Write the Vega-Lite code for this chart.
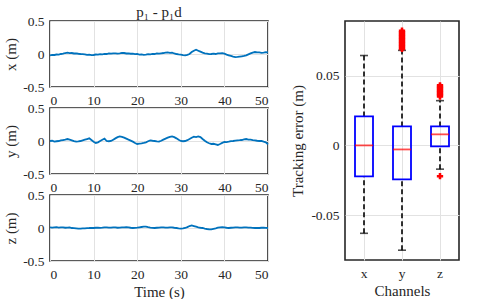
{
  "$schema": "https://vega.github.io/schema/vega-lite/v6.json",
  "padding": {"left": 2, "top": 4, "right": 0, "bottom": 0},
  "background": "white",
  "config": {
    "font": "Liberation Serif",
    "view": {"stroke": "#262626", "strokeWidth": 1.6},
    "axis": {
      "labelFont": "Liberation Serif",
      "titleFont": "Liberation Serif",
      "labelFontSize": 13.5,
      "titleFontSize": 15,
      "titleFontWeight": "normal",
      "labelColor": "#262626",
      "titleColor": "#262626",
      "gridColor": "#e2e2e2",
      "gridWidth": 1,
      "domain": false,
      "ticks": false,
      "labelPadding": 6
    }
  },
  "datasets": {
    "ts": [
      {"t":0,"x":-0.02,"y":0.0,"z":0.01},
      {"t":0.5,"x":-0.012,"y":0.004,"z":0.006},
      {"t":1,"x":-0.015,"y":-0.01,"z":0.01},
      {"t":1.5,"x":-0.008,"y":-0.004,"z":0.012},
      {"t":2,"x":-0.01,"y":0.0,"z":0.005},
      {"t":2.5,"x":0.0,"y":0.008,"z":0.01},
      {"t":3,"x":0.005,"y":0.015,"z":0.01},
      {"t":3.5,"x":0.015,"y":0.022,"z":0.004},
      {"t":4,"x":0.02,"y":0.03,"z":0.005},
      {"t":4.5,"x":0.012,"y":0.02,"z":0.008},
      {"t":5,"x":0.015,"y":0.01,"z":0.0},
      {"t":5.5,"x":0.008,"y":-0.002,"z":-0.002},
      {"t":6,"x":0.01,"y":-0.01,"z":-0.005},
      {"t":6.5,"x":0.004,"y":-0.006,"z":-0.01},
      {"t":7,"x":0.0,"y":0.0,"z":-0.01},
      {"t":7.5,"x":-0.002,"y":0.01,"z":-0.006},
      {"t":8,"x":-0.005,"y":0.02,"z":-0.005},
      {"t":8.5,"x":-0.012,"y":0.03,"z":-0.002},
      {"t":9,"x":-0.01,"y":0.04,"z":0.0},
      {"t":9.5,"x":-0.016,"y":0.015,"z":0.003},
      {"t":10,"x":-0.015,"y":-0.01,"z":0.0},
      {"t":10.5,"x":-0.008,"y":-0.03,"z":0.004},
      {"t":11,"x":-0.01,"y":-0.02,"z":0.005},
      {"t":11.5,"x":-0.003,"y":0.0,"z":0.002},
      {"t":12,"x":-0.005,"y":0.02,"z":0.005},
      {"t":12.5,"x":0.002,"y":0.035,"z":0.01},
      {"t":13,"x":0.0,"y":0.0,"z":0.01},
      {"t":13.5,"x":0.008,"y":-0.004,"z":0.006},
      {"t":14,"x":0.005,"y":0.0,"z":0.005},
      {"t":14.5,"x":0.01,"y":0.02,"z":0.01},
      {"t":15,"x":0.01,"y":0.04,"z":0.01},
      {"t":15.5,"x":0.006,"y":0.058,"z":0.004},
      {"t":16,"x":0.01,"y":0.07,"z":0.005},
      {"t":16.5,"x":0.016,"y":0.062,"z":0.01},
      {"t":17,"x":0.015,"y":0.05,"z":0.01},
      {"t":17.5,"x":0.008,"y":0.035,"z":0.014},
      {"t":18,"x":0.01,"y":0.02,"z":0.01},
      {"t":18.5,"x":0.004,"y":0.006,"z":0.004},
      {"t":19,"x":0.005,"y":-0.01,"z":0.0},
      {"t":19.5,"x":-0.002,"y":-0.03,"z":0.002},
      {"t":20,"x":0.0,"y":-0.045,"z":0.005},
      {"t":20.5,"x":-0.008,"y":-0.04,"z":0.01},
      {"t":21,"x":-0.005,"y":-0.035,"z":0.015},
      {"t":21.5,"x":-0.012,"y":-0.028,"z":0.02},
      {"t":22,"x":-0.01,"y":-0.02,"z":0.02},
      {"t":22.5,"x":-0.003,"y":-0.004,"z":0.012},
      {"t":23,"x":-0.005,"y":0.01,"z":0.005},
      {"t":23.5,"x":0.002,"y":0.004,"z":0.002},
      {"t":24,"x":0.0,"y":0.0,"z":0.0},
      {"t":24.5,"x":0.008,"y":-0.006,"z":0.004},
      {"t":25,"x":0.005,"y":-0.01,"z":0.005},
      {"t":25.5,"x":0.01,"y":0.004,"z":0.01},
      {"t":26,"x":0.015,"y":0.02,"z":0.01},
      {"t":26.5,"x":0.022,"y":0.036,"z":0.006},
      {"t":27,"x":0.025,"y":0.05,"z":0.005},
      {"t":27.5,"x":0.018,"y":0.062,"z":0.01},
      {"t":28,"x":0.02,"y":0.07,"z":0.01},
      {"t":28.5,"x":0.008,"y":0.058,"z":0.004},
      {"t":29,"x":0.0,"y":0.04,"z":0.0},
      {"t":29.5,"x":-0.006,"y":0.018,"z":-0.006},
      {"t":30,"x":-0.01,"y":0.0,"z":-0.01},
      {"t":30.5,"x":-0.018,"y":-0.004,"z":-0.006},
      {"t":31,"x":-0.02,"y":0.0,"z":0.0},
      {"t":31.5,"x":-0.012,"y":0.012,"z":0.014},
      {"t":32,"x":0.0,"y":0.03,"z":0.03},
      {"t":32.5,"x":0.03,"y":0.05,"z":0.04},
      {"t":33,"x":0.05,"y":0.065,"z":0.03},
      {"t":33.5,"x":0.065,"y":0.06,"z":0.02},
      {"t":34,"x":0.05,"y":0.07,"z":0.01},
      {"t":34.5,"x":0.035,"y":0.06,"z":0.004},
      {"t":35,"x":0.02,"y":0.03,"z":0.0},
      {"t":35.5,"x":0.01,"y":0.004,"z":-0.008},
      {"t":36,"x":0.005,"y":-0.02,"z":-0.015},
      {"t":36.5,"x":-0.002,"y":-0.034,"z":-0.02},
      {"t":37,"x":0.0,"y":-0.045,"z":-0.02},
      {"t":37.5,"x":0.006,"y":-0.042,"z":-0.012},
      {"t":38,"x":0.0,"y":-0.05,"z":-0.005},
      {"t":38.5,"x":0.008,"y":-0.06,"z":0.004},
      {"t":39,"x":0.01,"y":-0.045,"z":0.01},
      {"t":39.5,"x":0.014,"y":-0.028,"z":0.012},
      {"t":40,"x":0.005,"y":-0.015,"z":0.01},
      {"t":40.5,"x":-0.01,"y":-0.016,"z":0.004},
      {"t":41,"x":-0.02,"y":-0.01,"z":0.0},
      {"t":41.5,"x":-0.03,"y":-0.002,"z":0.004},
      {"t":42,"x":-0.04,"y":0.0,"z":0.005},
      {"t":42.5,"x":-0.046,"y":0.006,"z":0.01},
      {"t":43,"x":-0.045,"y":0.01,"z":0.01},
      {"t":43.5,"x":-0.04,"y":0.012,"z":0.006},
      {"t":44,"x":-0.035,"y":0.015,"z":0.005},
      {"t":44.5,"x":-0.03,"y":0.024,"z":0.01},
      {"t":45,"x":-0.02,"y":0.03,"z":0.01},
      {"t":45.5,"x":-0.005,"y":0.022,"z":0.006},
      {"t":46,"x":0.01,"y":0.02,"z":0.005},
      {"t":46.5,"x":0.022,"y":0.012,"z":0.002},
      {"t":47,"x":0.03,"y":0.01,"z":0.0},
      {"t":47.5,"x":0.024,"y":0.004,"z":0.003},
      {"t":48,"x":0.025,"y":0.0,"z":0.0},
      {"t":48.5,"x":0.018,"y":0.002,"z":0.004},
      {"t":49,"x":0.02,"y":-0.01,"z":0.005},
      {"t":49.5,"x":0.028,"y":-0.02,"z":0.002},
      {"t":50,"x":0.025,"y":-0.05,"z":0.0}
    ],
    "stats": [
      {"ch":"x","lo":-0.0629,"q1":-0.0221,"med":0.0,"q3":0.0207,"hi":0.0643},
      {"ch":"y","lo":-0.075,"q1":-0.0243,"med":-0.0029,"q3":0.0136,"hi":0.068},
      {"ch":"z","lo":-0.017,"q1":-0.0007,"med":0.0079,"q3":0.0136,"hi":0.032}
    ],
    "outliers": [
      {"ch":"y","v":0.069},{"ch":"y","v":0.070},{"ch":"y","v":0.071},{"ch":"y","v":0.072},
      {"ch":"y","v":0.073},{"ch":"y","v":0.074},{"ch":"y","v":0.075},{"ch":"y","v":0.076},
      {"ch":"y","v":0.077},{"ch":"y","v":0.078},{"ch":"y","v":0.079},{"ch":"y","v":0.080},
      {"ch":"y","v":0.081},{"ch":"y","v":0.082},
      {"ch":"z","v":0.035},{"ch":"z","v":0.036},{"ch":"z","v":0.037},{"ch":"z","v":0.038},
      {"ch":"z","v":0.039},{"ch":"z","v":0.040},{"ch":"z","v":0.041},{"ch":"z","v":0.042},
      {"ch":"z","v":0.043},
      {"ch":"z","v":-0.022}
    ]
  },
  "spacing": 17,
  "hconcat": [
    {
      "spacing": 21,
      "bounds": "flush",
      "vconcat": [
        {
          "width": 218, "height": 66,
          "title": {"text": "p₁ - p₁d", "fontSize": 15, "fontWeight": "normal", "font": "Liberation Serif", "color": "#262626", "anchor": "middle", "offset": -6},
          "data": {"name": "ts"},
          "mark": {"type": "line", "color": "#0072BD", "strokeWidth": 1.8},
          "encoding": {
            "x": {"field": "t", "type": "quantitative", "scale": {"domain": [0, 50], "nice": false}, "axis": {"values": [0,10,20,30,40,50], "title": null}},
            "y": {"field": "x", "type": "quantitative", "scale": {"domain": [-0.5, 0.5], "nice": false}, "axis": {"values": [-0.5,0,0.5], "title": "x (m)", "titlePadding": 4, "labelExpr": "datum.value == 0 ? '0' : (datum.value > 0 ? toString(datum.value) : '-' + toString(-datum.value))"}}
          }
        },
        {
          "width": 218, "height": 66,
          "data": {"name": "ts"},
          "mark": {"type": "line", "color": "#0072BD", "strokeWidth": 1.8},
          "encoding": {
            "x": {"field": "t", "type": "quantitative", "scale": {"domain": [0, 50], "nice": false}, "axis": {"values": [0,10,20,30,40,50], "title": null}},
            "y": {"field": "y", "type": "quantitative", "scale": {"domain": [-0.5, 0.5], "nice": false}, "axis": {"values": [-0.5,0,0.5], "title": "y (m)", "titlePadding": 4, "labelExpr": "datum.value == 0 ? '0' : (datum.value > 0 ? toString(datum.value) : '-' + toString(-datum.value))"}}
          }
        },
        {
          "width": 218, "height": 66,
          "data": {"name": "ts"},
          "mark": {"type": "line", "color": "#0072BD", "strokeWidth": 1.8},
          "encoding": {
            "x": {"field": "t", "type": "quantitative", "scale": {"domain": [0, 50], "nice": false}, "axis": {"values": [0,10,20,30,40,50], "title": "Time (s)", "titlePadding": 4}},
            "y": {"field": "z", "type": "quantitative", "scale": {"domain": [-0.5, 0.5], "nice": false}, "axis": {"values": [-0.5,0,0.5], "title": "z (m)", "titlePadding": 4, "labelExpr": "datum.value == 0 ? '0' : (datum.value > 0 ? toString(datum.value) : '-' + toString(-datum.value))"}}
          }
        }
      ]
    },
    {
      "width": 114, "height": 239,
      "encoding": {
        "x": {"field": "ch", "type": "nominal", "scale": {"domain": ["x","y","z"], "paddingInner": 0, "paddingOuter": 0}, "axis": {"title": "Channels", "labelAngle": 0, "grid": true, "bandPosition": 0.5, "titlePadding": 4}}
      },
      "layer": [
        {
          "data": {"name": "stats"},
          "mark": {"type": "rule", "color": "black", "strokeWidth": 1.6, "strokeDash": [5, 3]},
          "encoding": {
            "y": {"field": "q3", "type": "quantitative", "scale": {"domain": [-0.082, 0.089], "nice": false, "zero": false}, "axis": {"values": [-0.05, 0, 0.05], "title": "Tracking error (m)", "titlePadding": 5, "labelExpr": "datum.value == 0 ? '0' : (datum.value > 0 ? toString(datum.value) : '-' + toString(-datum.value))"}},
            "y2": {"field": "hi"}
          }
        },
        {
          "data": {"name": "stats"},
          "mark": {"type": "rule", "color": "black", "strokeWidth": 1.6, "strokeDash": [5, 3]},
          "encoding": {
            "y": {"field": "lo", "type": "quantitative", "scale": {"domain": [-0.082, 0.089], "nice": false, "zero": false}},
            "y2": {"field": "q1"}
          }
        },
        {
          "data": {"name": "stats"},
          "mark": {"type": "tick", "color": "black", "orient": "horizontal", "size": 8, "thickness": 1.6},
          "encoding": {
            "y": {"field": "hi", "type": "quantitative", "scale": {"domain": [-0.082, 0.089], "nice": false, "zero": false}}
          }
        },
        {
          "data": {"name": "stats"},
          "mark": {"type": "tick", "color": "black", "orient": "horizontal", "size": 8, "thickness": 1.6},
          "encoding": {
            "y": {"field": "lo", "type": "quantitative", "scale": {"domain": [-0.082, 0.089], "nice": false, "zero": false}}
          }
        },
        {
          "data": {"name": "stats"},
          "mark": {"type": "bar", "size": 18, "fill": "white", "fillOpacity": 0, "stroke": "#0000FF", "strokeWidth": 1.8},
          "encoding": {
            "y": {"field": "q1", "type": "quantitative", "scale": {"domain": [-0.082, 0.089], "nice": false, "zero": false}},
            "y2": {"field": "q3"}
          }
        },
        {
          "data": {"name": "stats"},
          "mark": {"type": "tick", "color": "#FF0000", "orient": "horizontal", "size": 18, "thickness": 1.8},
          "encoding": {
            "y": {"field": "med", "type": "quantitative", "scale": {"domain": [-0.082, 0.089], "nice": false, "zero": false}}
          }
        },
        {
          "data": {"name": "outliers"},
          "mark": {"type": "point", "shape": "cross", "filled": true, "color": "#FF0000", "size": 40, "opacity": 1},
          "encoding": {
            "y": {"field": "v", "type": "quantitative", "scale": {"domain": [-0.082, 0.089], "nice": false, "zero": false}}
          }
        }
      ]
    }
  ]
}
